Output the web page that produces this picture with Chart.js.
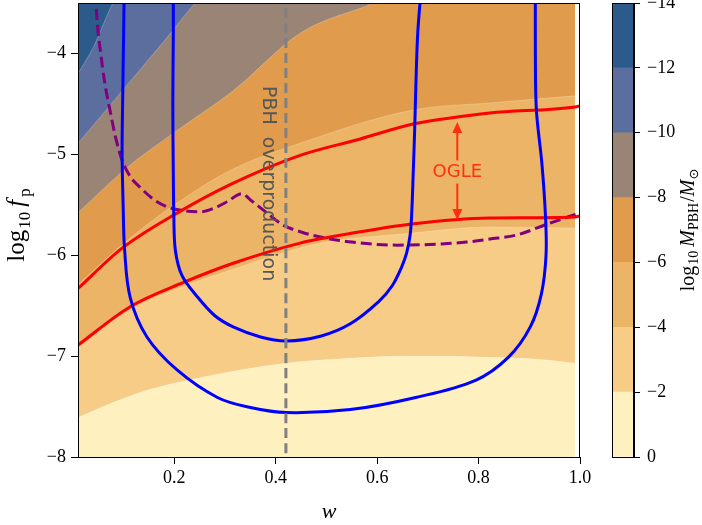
<!DOCTYPE html>
<html>
<head>
<meta charset="utf-8">
<script src="https://cdn.jsdelivr.net/npm/chart.js@4.4.1/dist/chart.umd.min.js"></script>
<style>
  html, body { margin: 0; padding: 0; background: #fff; }
  #wrap { position: relative; width: 702px; height: 525px; }
  canvas { position: absolute; top: 0; }
  #main { left: 0; }
  #cbar { left: 600px; }
</style>
</head>
<body>
<div id="wrap">
  <canvas id="main" width="702" height="525"></canvas>
  <canvas id="cbar" width="102" height="525"></canvas>
</div>
<script>
// points are [w, log10 f_p]
const xTicks = [0.2, 0.4, 0.6, 0.8, 1.0];
const yTicks = [-8, -7, -6, -5, -4];
const cbarLevels = [0, -2, -4, -6, -8, -10, -12, -14];

// upper edges of the filled log10 M_PBH bands
const edgeM2 = [[0.01,-7.61],[0.074,-7.47],[0.139,-7.35],[0.2,-7.27],[0.316,-7.15],[0.42,-7.07],[0.547,-7.02],[0.678,-7.0],[0.808,-7.01],[0.914,-7.03],[0.99,-7.07]];
const edgeM4 = [[0.01,-6.92],[0.113,-6.54],[0.218,-6.31],[0.31,-6.15],[0.4,-6.0],[0.488,-5.88],[0.671,-5.78],[0.823,-5.72],[0.99,-5.73]];
const edgeM6 = [[0.01,-6.29],[0.113,-5.83],[0.206,-5.48],[0.31,-5.16],[0.448,-4.89],[0.671,-4.56],[0.823,-4.49],[0.99,-4.42]];
const edgeM8 = [[0.01,-5.58],[0.107,-5.13],[0.198,-4.79],[0.316,-4.37],[0.448,-3.80],[0.59,-3.51],[0.7,-3.3]];
const edgeM10 = [[0.01,-4.89],[0.054,-4.63],[0.119,-4.24],[0.186,-3.84],[0.241,-3.50],[0.3,-3.2]];
const edgeM12 = [[0.01,-4.20],[0.040,-3.94],[0.079,-3.50],[0.12,-3.2]];

// blue contours
const blueInner = [[0.198,-3.4],[0.198,-3.8],[0.197,-4.5],[0.198,-5.2],[0.199,-5.6],[0.202,-5.95],[0.215,-6.2],[0.245,-6.41],[0.28,-6.6],[0.316,-6.71],[0.37,-6.81],[0.421,-6.85],[0.49,-6.8],[0.547,-6.68],[0.603,-6.46],[0.63,-6.3],[0.648,-6.12],[0.658,-5.98],[0.665,-5.8],[0.668,-5.6],[0.671,-5.2],[0.674,-4.75],[0.677,-4.2],[0.68,-3.8],[0.686,-3.4]];
const blueOuter = [[0.101,-3.4],[0.1,-3.8],[0.098,-4.5],[0.097,-5.0],[0.099,-5.5],[0.102,-5.95],[0.113,-6.42],[0.146,-6.81],[0.206,-7.14],[0.285,-7.41],[0.35,-7.51],[0.421,-7.56],[0.547,-7.53],[0.676,-7.41],[0.794,-7.24],[0.859,-7.01],[0.902,-6.71],[0.924,-6.38],[0.933,-6.0],[0.932,-5.62],[0.925,-5.1],[0.914,-4.56],[0.912,-4.0],[0.912,-3.4]];

// OGLE bounds
const redUpper = [[0.01,-6.33],[0.097,-5.93],[0.206,-5.58],[0.31,-5.30],[0.448,-5.01],[0.565,-4.85],[0.671,-4.70],[0.758,-4.63],[0.822,-4.59],[0.99,-4.53],[1.0,-4.52]];
const redLower = [[0.01,-6.89],[0.113,-6.51],[0.218,-6.27],[0.316,-6.08],[0.448,-5.88],[0.507,-5.82],[0.668,-5.69],[0.822,-5.63],[0.99,-5.62],[1.0,-5.61]];

// purple dashed
const purple = [[0.044,-3.4],[0.048,-3.7],[0.054,-3.97],[0.063,-4.3],[0.073,-4.56],[0.084,-4.83],[0.097,-5.06],[0.113,-5.22],[0.133,-5.33],[0.16,-5.45],[0.186,-5.52],[0.22,-5.56],[0.251,-5.57],[0.28,-5.53],[0.304,-5.47],[0.333,-5.39],[0.352,-5.46],[0.375,-5.55],[0.414,-5.70],[0.45,-5.77],[0.488,-5.82],[0.55,-5.87],[0.64,-5.9],[0.72,-5.89],[0.776,-5.87],[0.822,-5.84],[0.875,-5.80],[0.936,-5.69],[1.0,-5.58]];

// PBH overproduction limit
const pbhLimit = [[0.42,-3.55],[0.42,-8]];

// styles
const bandColors = ['#fff0bf', '#f6cc86', '#ecb466', '#e09b4c', '#9a8476', '#5b6e9d', '#2b5a8b'];
const ogleColor = '#ff3010';
const tickFont = { family: "'Liberation Serif', 'DejaVu Serif', serif", size: 18 };
const serif = "'Liberation Serif', 'DejaVu Serif', serif";

const pts = a => a.map(([x, y]) => ({ x, y }));
const minus = v => (v < 0 ? '\u2212' : '') + Math.abs(v);

// curve: parametric contour (spline), otherwise x-monotone line
const lineDs = (data, color, dash, curve) => ({
    data: pts(data), borderColor: color, borderWidth: 3, borderDash: dash || [],
    pointRadius: 0, fill: false, clip: 0,
    tension: curve ? 0.35 : 0, cubicInterpolationMode: curve ? 'default' : 'monotone'
});
const bandDs = (data, color, fill) => ({
    data: pts(data), borderColor: 'rgba(255,255,255,0.3)', borderWidth: fill === 'end' ? 0.8 : 0,
    backgroundColor: color, pointRadius: 0, cubicInterpolationMode: 'monotone', fill
});

// draws a run of text pieces (with subscripts) centred on x,y
function richText(ctx, parts, x, y, rot) {
    ctx.save();
    ctx.translate(x, y);
    ctx.rotate(rot);
    let total = 0;
    parts.forEach(p => { ctx.font = p.font; p.w = ctx.measureText(p.t).width + (p.gap || 0); total += p.w; });
    let cx = -total / 2;
    ctx.textAlign = 'left';
    ctx.textBaseline = 'alphabetic';
    ctx.fillStyle = '#000';
    parts.forEach(p => { ctx.font = p.font; ctx.fillText(p.t, cx, p.dy || 0); cx += p.w; });
    ctx.restore();
}

const frame = {
    id: 'frame',
    afterDraw(chart) {
        const a = chart.chartArea, ctx = chart.ctx;
        ctx.save();
        ctx.strokeStyle = '#000';
        ctx.lineWidth = 1;
        ctx.strokeRect(a.left + 0.5, a.top + 0.5, a.right - a.left - 1, a.bottom - a.top);
        ctx.restore();
    }
};

const notes = {
    id: 'notes',
    afterDatasetsDraw(chart) {
        const ctx = chart.ctx, xs = chart.scales.x, ys = chart.scales.y;
        ctx.save();
        // PBH overproduction label
        ctx.translate(xs.getPixelForValue(0.385), ys.getPixelForValue(-5.29));
        ctx.rotate(Math.PI / 2);
        ctx.font = "19px 'DejaVu Sans', sans-serif";
        ctx.fillStyle = '#575757';
        ctx.textAlign = 'center';
        ctx.textBaseline = 'middle';
        ctx.fillText('PBH  overproduction', 0, 0);
        ctx.restore();

        // OGLE label with arrows
        const ax = xs.getPixelForValue(0.758);
        ctx.save();
        ctx.font = "18px 'DejaVu Sans', sans-serif";
        ctx.fillStyle = ogleColor;
        ctx.strokeStyle = ogleColor;
        ctx.textAlign = 'center';
        ctx.textBaseline = 'middle';
        ctx.fillText('OGLE', ax, ys.getPixelForValue(-5.18));
        ctx.lineWidth = 2;
        const arrow = (from, to) => {
            const p0 = ys.getPixelForValue(from), p1 = ys.getPixelForValue(to);
            const d = p1 > p0 ? 1 : -1;
            ctx.beginPath();
            ctx.moveTo(ax, p0);
            ctx.lineTo(ax, p1 - d * 8);
            ctx.stroke();
            ctx.beginPath();
            ctx.moveTo(ax, p1);
            ctx.lineTo(ax - 5, p1 - d * 11);
            ctx.lineTo(ax + 5, p1 - d * 11);
            ctx.closePath();
            ctx.fill();
        };
        arrow(-5.06, -4.68);
        arrow(-5.29, -5.65);
        ctx.restore();
    },
    afterDraw(chart) {
        const ctx = chart.ctx;
        richText(ctx, [{ t: 'w', font: 'italic 22px ' + serif }], 329, 518, 0);
        richText(ctx, [
            { t: 'log', font: '25px ' + serif, gap: 1 },
            { t: '10', font: '17px ' + serif, dy: 6, gap: 5 },
            { t: 'f', font: 'italic 25px ' + serif, gap: 3 },
            { t: 'p', font: '17px ' + serif, dy: 6 }
        ], 24, 225, -Math.PI / 2);
    }
};

new Chart(document.getElementById('main'), {
    type: 'line',
    data: {
        datasets: [
            lineDs(pbhLimit, '#808080', [10, 5]),
            lineDs(blueInner, '#0000ff', null, true),
            lineDs(blueOuter, '#0000ff', null, true),
            lineDs(redUpper, '#ff0000'),
            lineDs(redLower, '#ff0000'),
            lineDs(purple, '#800080', [11, 5]),
            bandDs(edgeM12, bandColors[6], 'end'),
            bandDs(edgeM10, bandColors[5], 'end'),
            bandDs(edgeM8, bandColors[4], 'end'),
            bandDs(edgeM6, bandColors[3], 'end'),
            bandDs(edgeM4, bandColors[2], 'end'),
            bandDs(edgeM2, bandColors[1], 'end'),
            bandDs(edgeM2, bandColors[0], 'start')
        ]
    },
    options: {
        responsive: false,
        animation: false,
        devicePixelRatio: 1,
        layout: { padding: { left: 0, right: 122, top: 3, bottom: 0 } },
        elements: { line: { capBezierPoints: false, borderJoinStyle: 'round' } },
        plugins: { legend: { display: false }, tooltip: { enabled: false } },
        scales: {
            x: {
                type: 'linear', min: 0.01, max: 1.0,
                afterBuildTicks: s => { s.ticks = xTicks.map(v => ({ value: v })); },
                afterFit: s => { s.height = 68; s.paddingLeft = 0; s.paddingRight = 0; },
                grid: { drawOnChartArea: false, drawTicks: true, tickLength: 7, color: '#000' },
                border: { display: true, color: '#000', width: 1 },
                ticks: { font: tickFont, color: '#000', padding: 3, maxRotation: 0, callback: v => v.toFixed(1) }
            },
            y: {
                type: 'linear', min: -8, max: -3.5,
                afterBuildTicks: s => { s.ticks = yTicks.map(v => ({ value: v })); },
                afterFit: s => { s.width = 78; s.paddingTop = 0; s.paddingBottom = 0; },
                grid: { drawOnChartArea: false, drawTicks: true, tickLength: 7, color: '#000' },
                border: { display: true, color: '#000', width: 1 },
                ticks: { font: tickFont, color: '#000', padding: 5, callback: v => minus(v) }
            }
        }
    },
    plugins: [notes, frame]
});

const cbarLabel = {
    id: 'cbarLabel',
    afterDraw(chart) {
        richText(chart.ctx, [
            { t: 'log', font: '20px ' + serif, gap: 1 },
            { t: '10', font: '14px ' + serif, dy: 4, gap: 4 },
            { t: 'M', font: 'italic 20px ' + serif },
            { t: 'PBH', font: '14px ' + serif, dy: 4, gap: 1 },
            { t: '/', font: '20px ' + serif },
            { t: 'M', font: 'italic 20px ' + serif },
            { t: '\u2299', font: "13px 'DejaVu Sans', sans-serif", dy: 4 }
        ], 94, 230, -Math.PI / 2);
    }
};

new Chart(document.getElementById('cbar'), {
    type: 'bar',
    data: {
        labels: [''],
        datasets: bandColors.map((c, i) => ({
            data: [[cbarLevels[i], cbarLevels[i + 1]]],
            backgroundColor: c, borderWidth: 0, grouped: false,
            barPercentage: 1, categoryPercentage: 1
        }))
    },
    options: {
        responsive: false,
        animation: false,
        devicePixelRatio: 1,
        layout: { padding: { left: 12, right: 0, top: 3, bottom: 68 } },
        plugins: { legend: { display: false }, tooltip: { enabled: false } },
        scales: {
            x: { display: false },
            y: {
                position: 'right', min: -14, max: 0, reverse: true,
                afterBuildTicks: s => { s.ticks = cbarLevels.map(v => ({ value: v })); },
                afterFit: s => { s.width = 68; s.paddingTop = 0; s.paddingBottom = 0; },
                grid: { drawOnChartArea: false, drawTicks: true, tickLength: 6, color: '#000' },
                border: { display: true, color: '#000', width: 1 },
                ticks: { font: tickFont, color: '#000', padding: 7, callback: v => minus(v) }
            }
        }
    },
    plugins: [frame, cbarLabel]
});
</script>
</body>
</html>
